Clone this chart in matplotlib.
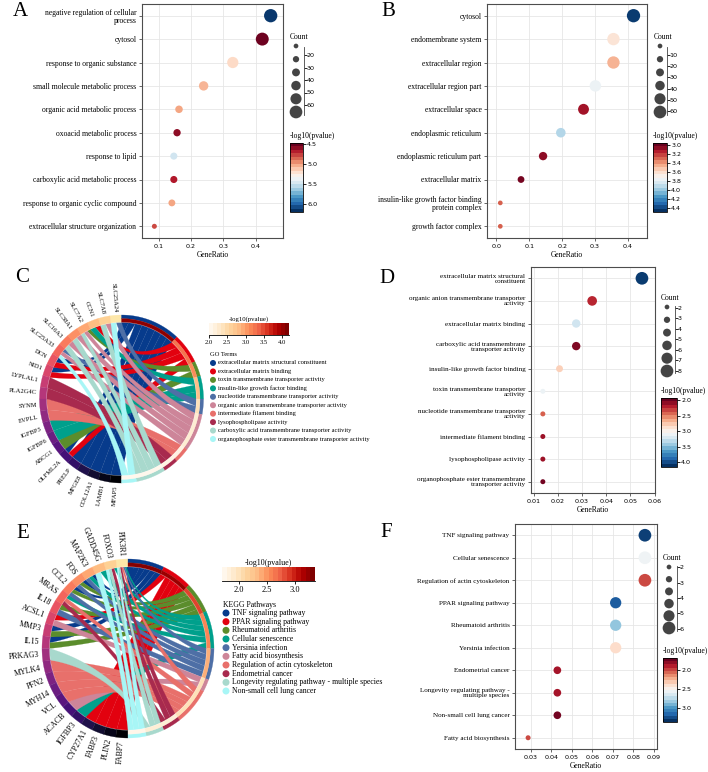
import numpy as np
import matplotlib
matplotlib.use("Agg")
import matplotlib.pyplot as plt
from matplotlib.colors import Normalize
from matplotlib.cm import ScalarMappable
from matplotlib.patches import Polygon

W, H, DPI = 708, 772, 100
SERIF = "Liberation Serif"
SANS = "DejaVu Sans"

# ---------------- data ----------------
a_terms = ["negative regulation of cellular\nprocess", "cytosol", "response to organic substance",
           "small molecule metabolic process", "organic acid metabolic process",
           "oxoacid metabolic process", "response to lipid", "carboxylic acid metabolic process",
           "response to organic cyclic compound", "extracellular structure organization"]
a_ratio = [0.446, 0.420, 0.329, 0.239, 0.163, 0.157, 0.147, 0.147, 0.141, 0.087]
a_count = [60, 57, 44, 32, 22, 21, 20, 20, 19, 12]
a_logp = [6.17, 4.50, 5.17, 5.05, 5.00, 4.57, 5.51, 4.65, 5.00, 4.77]

b_terms = ["cytosol", "endomembrane system", "extracellular region", "extracellular region part",
           "extracellular space", "endoplasmic reticulum", "endoplasmic reticulum part",
           "extracellular matrix", "insulin-like growth factor binding\nprotein complex",
           "growth factor complex"]
b_ratio = [0.417, 0.356, 0.356, 0.301, 0.265, 0.196, 0.142, 0.075, 0.012, 0.012]
b_count = [60, 51, 51, 43, 38, 28, 20, 11, 2, 2]
b_logp = [4.45, 3.61, 3.45, 3.76, 3.07, 3.94, 3.03, 2.98, 3.26, 3.26]

d_terms = ["extracellular matrix structural\nconstituent",
           "organic anion transmembrane transporter\nactivity",
           "extracellular matrix binding",
           "carboxylic acid transmembrane\ntransporter activity",
           "insulin-like growth factor binding",
           "toxin transmembrane transporter\nactivity",
           "nucleotide transmembrane transporter\nactivity",
           "intermediate filament binding", "lysophospholipase activity",
           "organophosphate ester transmembrane\ntransporter activity"]
d_ratio = [0.0548, 0.0342, 0.0276, 0.0276, 0.0207, 0.0138, 0.0138, 0.0138, 0.0138, 0.0138]
d_count = [8, 5, 4, 4, 3, 2, 2, 2, 2, 2]
d_logp = [4.10, 2.19, 3.26, 1.99, 2.77, 3.10, 2.37, 2.08, 2.08, 1.96]

f_terms = ["TNF signaling pathway", "Cellular senescence", "Regulation of actin cytoskeleton",
           "PPAR signaling pathway", "Rheumatoid arthritis", "Yersinia infection",
           "Endometrial cancer", "Longevity regulating pathway -\nmultiple species",
           "Non-small cell lung cancer", "Fatty acid biosynthesis"]
f_ratio = [0.0857, 0.0857, 0.0857, 0.0714, 0.0714, 0.0714, 0.0429, 0.0429, 0.0429, 0.0286]
f_count = [6, 6, 6, 5, 5, 5, 3, 3, 3, 2]
f_logp = [3.33, 2.57, 1.98, 3.24, 2.87, 2.38, 1.83, 1.83, 1.72, 1.98]

c_genes = ["SLC25A24", "SLC7A8", "CCN1", "SLC7A2", "SLC38A1", "SLC16A3", "SLC25A33", "DCN", "NID1",
           "LYPLAL1", "PLA2G4C", "SYNM", "EVPLL", "IGFBP3", "IGFBP6", "ABCG1", "OLFML2A", "PRELP",
           "MFGE8", "COL12A1", "LAMB1", "MFAP5"]
c_terms = ["extracellular matrix structural constituent", "extracellular matrix binding",
           "toxin transmembrane transporter activity", "insulin-like growth factor binding",
           "nucleotide transmembrane transporter activity",
           "organic anion transmembrane transporter activity", "intermediate filament binding",
           "lysophospholipase activity", "carboxylic acid transmembrane transporter activity",
           "organophosphate ester transmembrane transporter activity"]
c_term_genes = [
    ["DCN", "NID1", "OLFML2A", "PRELP", "MFGE8", "COL12A1", "LAMB1", "MFAP5"],
    ["CCN1", "DCN", "NID1", "OLFML2A"],
    ["SLC7A2", "ABCG1"],
    ["CCN1", "IGFBP3", "IGFBP6"],
    ["SLC25A24", "SLC25A33"],
    ["SLC7A8", "SLC7A2", "SLC38A1", "SLC16A3", "SLC25A33"],
    ["SYNM", "EVPLL"],
    ["LYPLAL1", "PLA2G4C"],
    ["SLC7A8", "SLC7A2", "SLC38A1", "SLC16A3"],
    ["SLC25A24", "SLC25A33"],
]
c_term_logp = [4.10, 3.26, 3.10, 2.77, 2.37, 2.19, 2.08, 2.08, 1.99, 1.96]

e_genes = ["PIK3R1", "FOXO3", "GADD45G", "MAP2K3", "FOS", "CCL2", "MRAS", "IL18", "ACSL1", "MMP3",
           "IL15", "PRKAG3", "MYLK4", "PFN2", "MYH14", "VCL", "ACACB", "IGFBP3", "CYP27A1", "FABP3",
           "PLIN2", "FABP7"]
e_terms = ["TNF signaling pathway", "PPAR signaling pathway", "Rheumatoid arthritis",
           "Cellular senescence", "Yersinia infection", "Fatty acid biosynthesis",
           "Regulation of actin cytoskeleton", "Endometrial cancer",
           "Longevity regulating pathway - multiple species", "Non-small cell lung cancer"]
e_term_genes = [
    ["PIK3R1", "MAP2K3", "FOS", "CCL2", "MMP3", "IL15"],
    ["ACSL1", "CYP27A1", "FABP3", "PLIN2", "FABP7"],
    ["FOS", "CCL2", "IL18", "MMP3", "IL15"],
    ["PIK3R1", "FOXO3", "GADD45G", "MAP2K3", "MRAS", "IGFBP3"],
    ["PIK3R1", "MAP2K3", "FOS", "CCL2", "IL18"],
    ["ACSL1", "ACACB"],
    ["PIK3R1", "MRAS", "MYLK4", "PFN2", "MYH14", "VCL"],
    ["PIK3R1", "FOXO3", "MRAS"],
    ["PIK3R1", "FOXO3", "PRKAG3"],
    ["PIK3R1", "FOXO3", "GADD45G"],
]
e_term_logp = [3.33, 3.24, 2.87, 2.57, 2.38, 1.98, 1.98, 1.83, 1.83, 1.72]

term_colors = ["#073b8c", "#e2010f", "#5b8d2c", "#00a08c", "#4e6fa6",
               "#cd8599", "#e8706b", "#a82a4e", "#a8d9cd", "#a8f6f6"]


# ---------------- helpers ----------------
def rect(l, t, r, b):
    return [l / W, 1 - b / H, (r - l) / W, (b - t) / H]


def ptsize(d_px):
    return (np.asarray(d_px, float) * 72 / DPI) ** 2


fig = plt.figure(figsize=(W / DPI, H / DPI), dpi=DPI)
ov = fig.add_axes([0, 0, 1, 1], zorder=0)
ov.set_xlim(0, W)
ov.set_ylim(H, 0)
ov.axis("off")


def dot_panel(box, terms, ratio, count, logp, xlim, xticks, xfmt, size_rng, vlim, cticks,
              lab_size, cbox, count_leg):
    ax = fig.add_axes(rect(*box))
    n = len(terms)
    ypos = np.arange(n, 0, -1)
    cmin, cmax, dmin, dmax = size_rng
    c = np.asarray(count, float)
    d = np.sqrt(dmin ** 2 + (dmax ** 2 - dmin ** 2) * (c - cmin) / (cmax - cmin))
    norm = Normalize(*vlim)
    ax.scatter(ratio, ypos, s=ptsize(d), c=logp, cmap="RdBu", norm=norm, linewidths=0, zorder=3)
    ax.set_xlim(*xlim)
    ax.set_ylim(0.5, n + 0.5)
    ax.set_yticks(ypos)
    ax.set_yticklabels(terms, fontfamily=SERIF, fontsize=lab_size, linespacing=1.0)
    ax.set_xticks(xticks)
    ax.set_xticklabels([xfmt.format(v) for v in xticks], fontfamily=SANS, fontsize=4.6)
    ax.grid(color="#e6e6e6", lw=0.6)
    ax.set_axisbelow(True)
    for s in ax.spines.values():
        s.set_color("#4d4d4d")
        s.set_linewidth(0.8)
    ax.tick_params(length=2.5, width=0.6, color="#4d4d4d", pad=1.5)
    ax.set_xlabel("GeneRatio", fontfamily=SERIF, fontsize=5.5, labelpad=1.5)

    # colour bar
    cax = fig.add_axes(rect(*cbox))
    cb = fig.colorbar(ScalarMappable(norm, cmap=plt.get_cmap("RdBu", 20)), cax=cax)
    cax.invert_yaxis()
    cb.set_ticks(cticks)
    cb.set_ticklabels(["{:.1f}".format(v) for v in cticks])
    cb.outline.set_linewidth(0.6)
    cax.tick_params(labelsize=4.6, length=2, width=0.6, pad=1)
    for t in cax.get_yticklabels():
        t.set_fontfamily(SANS)
    ov.text(cbox[0], cbox[1] - 7, "-log10(pvalue)", fontfamily=SERIF, fontsize=5.5,
            ha="left", va="center")

    # size legend
    cx_dot, line_x, y_top, y_bot, lo, hi, lticks, ydots = count_leg
    ov.text(cx_dot - 6, ydots[0] - 9, "Count", fontfamily=SERIF, fontsize=5.5, ha="left", va="center")
    yd = np.linspace(ydots[0], ydots[1], 6)
    ov.scatter(np.full(6, cx_dot), yd, s=ptsize(np.linspace(4.7, 12.7, 6)), color="#444444", lw=0)
    lax = fig.add_axes(rect(line_x, y_top, line_x + 0.5, y_bot))
    lax.set_ylim(hi, lo)
    lax.set_xticks([])
    for k in ["top", "bottom", "right"]:
        lax.spines[k].set_visible(False)
    lax.spines["left"].set_linewidth(0.6)
    lax.spines["left"].set_color("#444444")
    lax.set_yticks(lticks)
    lax.tick_params(axis="y", direction="in", left=True, right=False, labelleft=False,
                    labelright=True, length=2.5, width=0.6, pad=1.5, labelsize=4.6)
    lax.patch.set_alpha(0)
    return ax


dot_panel((142, 4, 283, 238), a_terms, a_ratio, a_count, a_logp, (0.0488, 0.484),
          [0.1, 0.2, 0.3, 0.4], "{:.1f}", (12, 60, 5.0, 13.3), (4.48, 6.2), [4.5, 5.0, 5.5, 6.0],
          5.5, (290, 143, 303, 212), (296, 304, 47, 115, 13.6, 68, [20, 30, 40, 50, 60], (46, 112)))
dot_panel((487, 4, 647, 238), b_terms, b_ratio, b_count, b_logp, (-0.0284, 0.458),
          [0.0, 0.1, 0.2, 0.3, 0.4], "{:.1f}", (2, 60, 4.7, 13.3), (2.95, 4.48),
          [3.0, 3.2, 3.4, 3.6, 3.8, 4.0, 4.2, 4.4], 5.5, (653, 143, 667, 212),
          (660, 667, 47, 115, 2.9, 63.6, [10, 20, 30, 40, 50, 60], (46, 112)))
dot_panel((531, 267, 655, 493), d_terms, d_ratio, d_count, d_logp, (0.0089, 0.0602),
          [0.01, 0.02, 0.03, 0.04, 0.05, 0.06], "{:.2f}", (2, 8, 5.0, 12.7), (1.92, 4.15),
          [2.0, 2.5, 3.0, 3.5, 4.0], 5.1, (661, 398, 677, 467),
          (667, 675, 306, 373, 1.85, 8.19, [2, 3, 4, 5, 6, 7, 8], (307, 371)))
dot_panel((515, 524, 657, 749), f_terms, f_ratio, f_count, f_logp, (0.0222, 0.0916),
          [0.03, 0.04, 0.05, 0.06, 0.07, 0.08, 0.09], "{:.2f}", (2, 6, 5.0, 12.7), (1.69, 3.38),
          [2.0, 2.5, 3.0], 5.1, (663, 658, 677, 722),
          (669, 677, 566, 631, 1.91, 6.16, [2, 3, 4, 5, 6], (567, 628)))


def chord(cx, cy, rx, ry, genes, term_genes, logp, vlim, lab_size, pull=0.5):
    ng = len(genes)
    gidx = {g: i for i, g in enumerate(genes)}
    span = 180.0 / ng
    links = [(gidx[g], j) for j, tg in enumerate(term_genes) for g in tg]
    unit = 180.0 / len(links)
    cen = np.array([cx, cy])

    def pt(theta, f):
        t = np.deg2rad(np.atleast_1d(theta))
        return np.column_stack([cx + f * rx * np.cos(t), cy - f * ry * np.sin(t)])

    def band(t0, t1, f0, f1, color):
        th = np.linspace(t0, t1, 30)
        p = np.vstack([pt(th, f1), pt(th[::-1], f0)])
        ov.add_patch(Polygon(p, closed=True, fc=color, ec=color, lw=0.2, zorder=2))

    gene_seg = {}
    for i in range(ng):
        tl = sorted(j for (g, j) in links if g == i)
        a0 = 90 + i * span
        sub = span / max(len(tl), 1)
        for m, j in enumerate(tl):
            gene_seg[(i, j)] = (a0 + m * sub, a0 + (m + 1) * sub)
        band(a0, a0 + span, 0.915, 1.0, plt.cm.magma(0.95 - 0.95 * i / (ng - 1)))

    norm = Normalize(*vlim)
    term_seg = {}
    top = 90.0
    for j, tg in enumerate(term_genes):
        for m, i in enumerate(sorted(gidx[g] for g in tg)):
            term_seg[(i, j)] = (top - (m + 1) * unit, top - m * unit)
        bot = top - len(tg) * unit
        band(bot, top, 0.957, 1.0, term_colors[j])
        band(bot, top, 0.915, 0.957, plt.cm.OrRd(norm(logp[j])))
        top = bot

    fr = 0.91
    t = np.linspace(0, 1, 40)[:, None]

    def curve(p0, p2):
        ctrl = cen + (1 - pull) * ((p0 + p2) / 2 - cen)
        return (1 - t) ** 2 * p0 + 2 * (1 - t) * t * ctrl + t ** 2 * p2

    for j, tg in enumerate(term_genes):
        for g in tg:
            i = gidx[g]
            a0, a1 = gene_seg[(i, j)]
            b0, b1 = term_seg[(i, j)]
            arc_a = pt(np.linspace(a0, a1, 15), fr)
            arc_b = pt(np.linspace(b0, b1, 15), fr)
            poly = np.vstack([arc_a, curve(arc_a[-1], arc_b[0]), arc_b, curve(arc_b[-1], arc_a[0])])
            ov.add_patch(Polygon(poly, closed=True, fc=term_colors[j], ec=term_colors[j],
                                 lw=0.15, zorder=1))

    for i, g in enumerate(genes):
        th = 90 + (i + 0.5) * span
        x, y = pt(th, 1.0 + 3.0 / rx)[0]
        ov.text(x, y, g, rotation=th - 180, ha="right", va="center", rotation_mode="anchor",
                fontfamily=SERIF, fontsize=lab_size)


def chord_legend(cbox, vlim, cticks, title_size, tick_size, head, terms, x_dot, y0, y1,
                 dot_d, txt_size):
    cax = fig.add_axes(rect(*cbox))
    cb = fig.colorbar(ScalarMappable(Normalize(*vlim), cmap=plt.get_cmap("OrRd", 20)), cax=cax,
                      orientation="horizontal")
    cb.outline.set_visible(False)
    cb.set_ticks(cticks)
    cb.set_ticklabels(["{:.1f}".format(v) for v in cticks])
    cax.spines["bottom"].set_visible(True)
    cax.spines["bottom"].set_linewidth(0.6)
    cax.tick_params(labelsize=tick_size, length=2.5, width=0.6, pad=1)
    for tl in cax.get_xticklabels():
        tl.set_fontfamily(SERIF)
    ov.text((cbox[0] + cbox[2]) / 2, cbox[1] - 4, "-log10(pvalue)", fontfamily=SERIF,
            fontsize=title_size, ha="center", va="center")
    ys = np.linspace(y0, y1, len(terms))
    ov.text(cbox[0] + 1, y0 - 8, head, fontfamily=SERIF, fontsize=txt_size, ha="left", va="center")
    ov.scatter(np.full(len(terms), x_dot), ys, s=ptsize(dot_d), c=term_colors, lw=0)
    for yy, name in zip(ys, terms):
        ov.text(x_dot + dot_d * 0.85, yy, name, fontfamily=SERIF, fontsize=txt_size,
                ha="left", va="center")


chord(121.5, 399, 82, 84, c_genes, c_term_genes, c_term_logp, (2.0, 4.19), 4.7)
chord_legend((209, 323, 289, 335), (2.0, 4.19), [2.0, 2.5, 3.0, 3.5, 4.0], 4.9, 4.8, "GO Terms",
             c_terms, 213, 363, 439, 6.0, 4.7)
chord(128, 648.5, 86, 89.5, e_genes, e_term_genes, e_term_logp, (1.70, 3.36), 5.7)
chord_legend((222, 567, 315, 581), (1.70, 3.36), [2.0, 2.5, 3.0], 5.8, 6.0, "KEGG Pathways",
             e_terms, 226, 613, 691, 7.0, 5.6)

for letter, x, y in [("A", 13, 16), ("B", 381, 16), ("C", 15, 282), ("D", 379, 283),
                     ("E", 16, 538), ("F", 380, 537)]:
    ov.text(x, y, letter, fontfamily=SERIF, fontsize=15, ha="left", va="baseline")

fig.savefig("out.png", dpi=DPI)
